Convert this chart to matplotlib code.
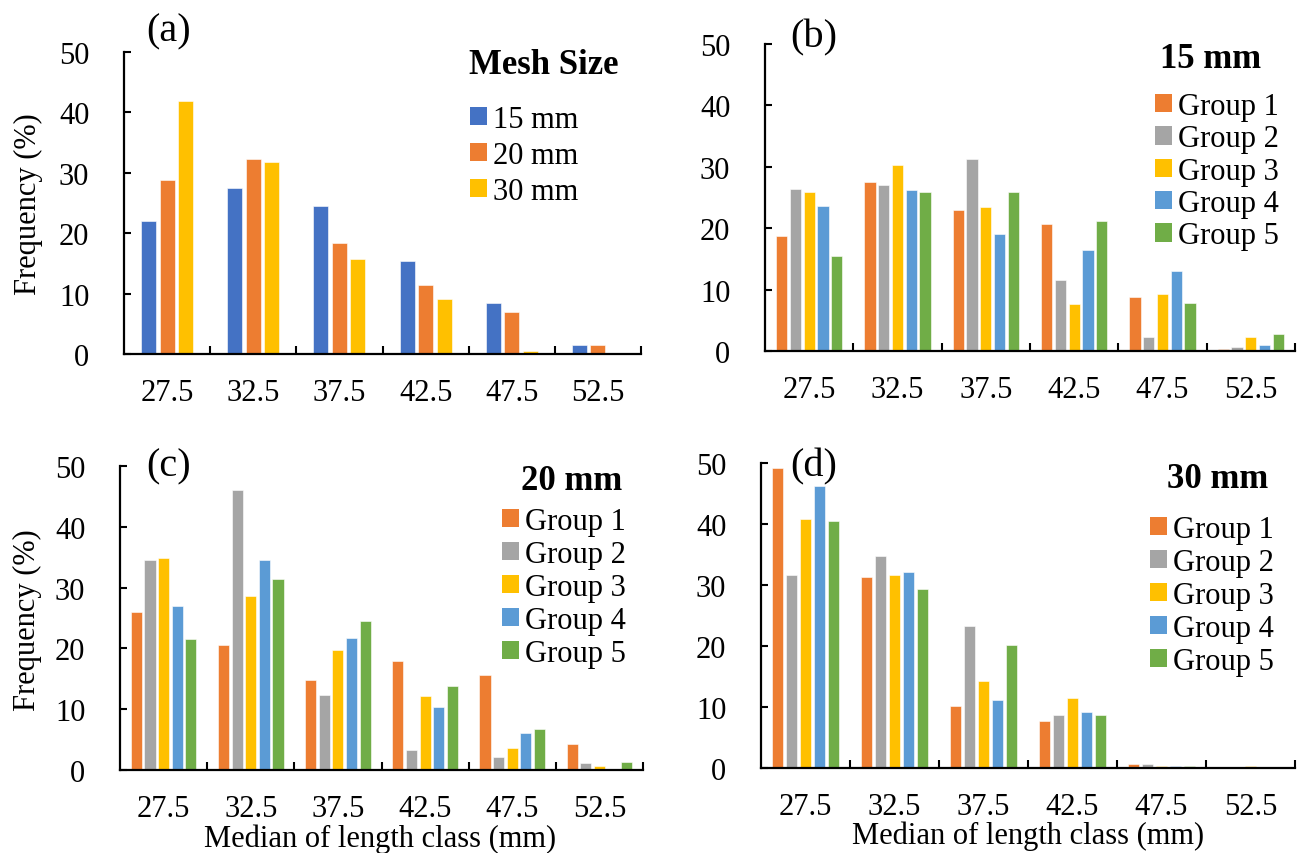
import numpy as np
import matplotlib
matplotlib.use('Agg')
import matplotlib.pyplot as plt
from matplotlib.patches import Patch

plt.rcParams['font.family'] = ['Liberation Serif', 'DejaVu Serif']

#--------------------------------
# data
#--------------------------------
classes = ['27.5', '32.5', '37.5', '42.5', '47.5', '52.5']

mesh_labels = ['15 mm', '20 mm', '30 mm']
mesh_15 = [22.0, 27.5, 24.5, 15.4, 8.4, 1.5]
mesh_20 = [28.8, 32.3, 18.4, 11.4, 6.9, 1.5]
mesh_30 = [41.9, 31.8, 15.7, 9.1, 0.55, 0.0]

group_labels = ['Group 1', 'Group 2', 'Group 3', 'Group 4', 'Group 5']

m15_g1 = [18.7, 27.6, 22.9, 20.7, 8.8, 0.4]
m15_g2 = [26.4, 27.1, 31.3, 11.5, 2.3, 0.65]
m15_g3 = [25.9, 30.3, 23.4, 7.6, 9.3, 2.3]
m15_g4 = [23.6, 26.2, 19.0, 16.5, 13.0, 0.9]
m15_g5 = [15.5, 25.9, 25.9, 21.2, 7.8, 2.8]

m20_g1 = [26.0, 20.5, 14.8, 18.0, 15.7, 4.3]
m20_g2 = [34.6, 46.1, 12.3, 3.3, 2.1, 1.1]
m20_g3 = [34.9, 28.7, 19.8, 12.1, 3.6, 0.6]
m20_g4 = [27.0, 34.6, 21.7, 10.3, 6.1, 0.0]
m20_g5 = [21.5, 31.4, 24.5, 13.8, 6.8, 1.3]

m30_g1 = [49.2, 31.3, 10.1, 7.7, 0.65, 0.0]
m30_g2 = [31.6, 34.7, 23.3, 8.7, 0.65, 0.0]
m30_g3 = [40.8, 31.6, 14.3, 11.4, 0.4, 0.4]
m30_g4 = [46.2, 32.1, 11.1, 9.2, 0.4, 0.0]
m30_g5 = [40.5, 29.3, 20.1, 8.7, 0.4, 0.0]

mesh_colors = ['#4472C4', '#ED7D31', '#FFC000']
group_colors = ['#ED7D31', '#A5A5A5', '#FFC000', '#5B9BD5', '#70AD47']

W, H = 1301, 854

#--------------------------------
def fx(x) :
    return x / W

def fy(y) :
    return 1 - y / H

#--------------------------------
def plotPanel(fig, rect, series, colors, labels, title, tag, tag_xy, title_xy,
              leg_xy, leg_space, pitch, width) :
    # rect in pixel coords: left, top, right, bottom
    l, t, r, b = rect
    ax = fig.add_axes([fx(l), fy(b), fx(r - l), (b - t) / H])
    x = np.arange(len(classes)) + 0.5
    n = len(series)
    for i, vals in enumerate(series) :
        off = (i - (n - 1) / 2.) * pitch
        ax.bar(x + off, vals, width=width, color=colors[i], edgecolor='white',
               linewidth=0.4, label=labels[i])
    ax.set_xlim(0, len(classes))
    ax.set_ylim(0, 50)
    for s in ['top', 'right'] :
        ax.spines[s].set_visible(False)
    for s in ['left', 'bottom'] :
        ax.spines[s].set_linewidth(1.6)
    ax.set_yticks(np.arange(0, 51, 10))
    ax.set_xticks(np.arange(1, len(classes) + 1))
    ax.set_xticklabels([])
    ax.set_xticks(x, minor=True)
    ax.set_xticklabels(classes, minor=True)
    ax.tick_params(axis='x', which='major', direction='in', length=6, width=1.5)
    ax.tick_params(axis='x', which='minor', length=0, pad=17, labelsize=22)
    ax.tick_params(axis='y', direction='in', length=5, width=1.5, pad=25, labelsize=22)

    fig.text(fx(tag_xy[0]), fy(tag_xy[1]), tag, fontsize=29, ha='center', va='center')
    fig.text(fx(title_xy[0]), fy(title_xy[1]), title, fontsize=25, fontweight='bold',
             ha='center', va='center')

    handles = [Patch(facecolor=c, edgecolor='none') for c in colors]
    leg = ax.legend(handles, labels, loc='upper left', frameon=False, fontsize=22,
                    bbox_to_anchor=(fx(leg_xy[0]), fy(leg_xy[1])),
                    bbox_transform=fig.transFigure, borderpad=0, borderaxespad=0,
                    handlelength=0.55, handleheight=0.55, handletextpad=0.2,
                    labelspacing=leg_space)
    return ax

#--------------------------------
def main() :
    fig = plt.figure(figsize=(W / 100., H / 100.), dpi=100, facecolor='w')

    plotPanel(fig, (124, 53, 641, 355), [mesh_15, mesh_20, mesh_30], mesh_colors,
              mesh_labels, 'Mesh Size', '(a)', (169, 32), (544, 66),
              (470, 106), 0.23, 0.215, 0.175)

    plotPanel(fig, (765, 45, 1295, 352), [m15_g1, m15_g2, m15_g3, m15_g4, m15_g5],
              group_colors, group_labels, '15 mm', '(b)', (814, 38), (1211, 60),
              (1155, 93), 0.11, 0.156, 0.128)

    plotPanel(fig, (120, 467, 643, 771), [m20_g1, m20_g2, m20_g3, m20_g4, m20_g5],
              group_colors, group_labels, '20 mm', '(c)', (169, 467), (572, 482),
              (502, 508), 0.13, 0.156, 0.128)

    plotPanel(fig, (761, 464, 1295, 769), [m30_g1, m30_g2, m30_g3, m30_g4, m30_g5],
              group_colors, group_labels, '30 mm', '(d)', (814, 467), (1218, 480),
              (1150, 516), 0.13, 0.156, 0.128)

    fig.text(fx(28), fy(204), 'Frequency (%)', fontsize=22, rotation=90,
             ha='center', va='center')
    fig.text(fx(27), fy(620), 'Frequency (%)', fontsize=22, rotation=90,
             ha='center', va='center')

    fig.text(fx(380), fy(839), 'Median of length class (mm)', fontsize=22,
             ha='center', va='center')
    fig.text(fx(1028), fy(836), 'Median of length class (mm)', fontsize=22,
             ha='center', va='center')

    fig.savefig('out.png', dpi=100)

#--------------------------------

if __name__ == "__main__" :

    main()

#----------------------------------------------
